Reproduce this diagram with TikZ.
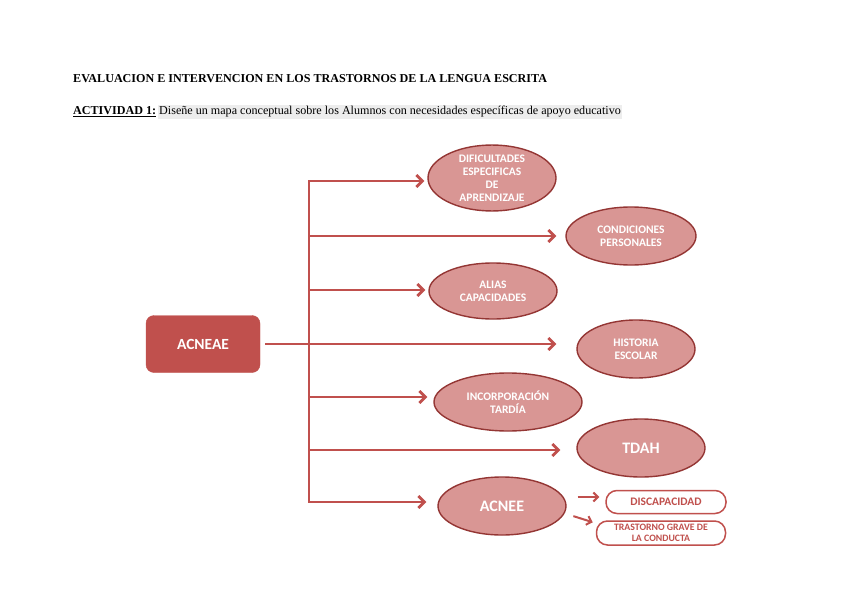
\documentclass[tikz,border=0pt]{standalone}
\usepackage{fontspec}
\setmainfont{Liberation Serif}
\newfontfamily\calib{Carlito}
\usetikzlibrary{arrows.meta,shapes.geometric}

\definecolor{rojo}{HTML}{C0504D}
\definecolor{rosa}{HTML}{D99694}
\definecolor{borde}{HTML}{943634}

\tikzset{
  elip/.style={ellipse, draw=borde, line width=1.4pt, fill=rosa, text=white,
    inner sep=0pt, align=center, font=\calib\bfseries\fontsize{11.5}{13}\selectfont},
  tronco/.style={draw=rojo, line width=2.8pt, line cap=rect},
  flecha/.style={draw=rojo, line width=2.8pt, -{Straight Barb[length=6pt,width=12pt]}},
  flechita/.style={draw=rojo, line width=2pt, -{Straight Barb[length=4.5pt,width=9pt]}},
  pastilla/.style={draw=rojo, line width=1.5pt, fill=white, rounded corners=11pt,
    text=rojo, inner sep=0pt, align=center, font=\calib\bfseries\fontsize{11.5}{12}\selectfont},
}

\begin{document}
\begin{tikzpicture}[x=1pt,y=-1pt]
            \useasboundingbox (0,0) rectangle (848,599);

            % encabezado
            \node[anchor=base west, inner sep=0pt, font=\bfseries\fontsize{12.1}{14}\selectfont] (titulo) at (73,83)
                {EVALUACION E INTERVENCION EN LOS TRASTORNOS DE LA LENGUA ESCRITA};
            \node[anchor=base west, inner sep=0pt, font=\fontsize{12.1}{14}\selectfont] (act) at (73,115)
                {\underline{\textbf{ACTIVIDAD 1:}}};
            \node[anchor=base west, inner sep=1.5pt, fill=black!7, font=\fontsize{12.1}{14}\selectfont] (enun) at (157.5,115)
                {Diseñe un mapa conceptual sobre los Alumnos con necesidades específicas de apoyo educativo};

            % nodos
            \node[draw=rojo, fill=rojo, rounded corners=8pt, minimum width=114, minimum height=57, text=white,
                font=\calib\bfseries\fontsize{15.5}{17}\selectfont] (acneae) at (203,344) {ACNEAE};

            \node[elip, minimum width=128, minimum height=58] (dea) at (492,178)
                {DIFICULTADES\\ESPECIFICAS\\DE\\APRENDIZAJE};
            \node[elip, minimum width=130, minimum height=58] (cond) at (631,236) {CONDICIONES\\PERSONALES};
            \node[elip, minimum width=128, minimum height=56] (alias) at (493,291) {ALIAS\\CAPACIDADES};
            \node[elip, minimum width=118, minimum height=58] (hist) at (636,349) {HISTORIA\\ESCOLAR};
            \node[elip, minimum width=148, minimum height=58] (incorp) at (508,402) {INCORPORACIÓN\\TARDÍA};
            \node[elip, minimum width=128, minimum height=58, font=\calib\bfseries\fontsize{16}{18}\selectfont] (tdah) at (641,448) {TDAH};
            \node[elip, minimum width=128, minimum height=58, font=\calib\bfseries\fontsize{16}{18}\selectfont] (acnee) at (502,506) {ACNEE};

            \node[pastilla, minimum width=120, minimum height=23] (disc) at (666,502) {DISCAPACIDAD};
            \node[pastilla, minimum width=129, minimum height=24, font=\calib\bfseries\fontsize{9.8}{10.5}\selectfont] (tgc) at (661,533)
                {TRASTORNO GRAVE DE\\LA CONDUCTA};

            % ramas
            \coordinate (r1) at (309,181);
            \coordinate (r2) at (309,236);
            \coordinate (r3) at (309,290);
            \coordinate (r5) at (309,397);
            \coordinate (r6) at (309,450);
            \coordinate (r7) at (309,502);

            \draw[tronco] (r1) -- (r7);
            \draw[flecha, shorten >=3pt] (r1) -- (r1 -| dea.west);
            \draw[flecha, shorten >=9pt] (r2) -- (r2 -| cond.west);
            \draw[flecha, shorten >=3pt] (r3) -- (r3 -| alias.west);
            \draw[flecha, shorten >=20pt, shorten <=5pt] (acneae.east) -- (acneae.east -| hist.west);
            \draw[flecha, shorten >=6pt] (r5) -- (r5 -| incorp.west);
            \draw[flecha, shorten >=16pt] (r6) -- (r6 -| tdah.west);
            \draw[flecha, shorten >=11pt] (r7) -- (r7 -| acnee.west);

            \draw[flechita, shorten <=11pt, shorten >=6pt] ([yshift=9]acnee.east) -- ([yshift=5]disc.west);
            \draw[flechita, shorten <=7pt] ([yshift=-8]acnee.east) -- ([xshift=-3,yshift=-2]tgc.north west);
        \end{tikzpicture}
\end{document}
